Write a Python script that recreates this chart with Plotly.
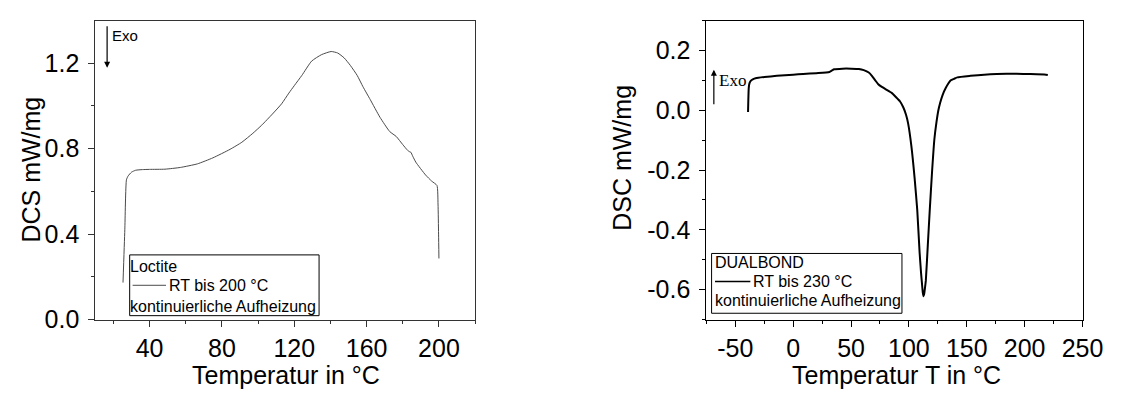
import plotly.graph_objects as go

W, H = 1123, 394

# ---------------- data ----------------
loctite_T = [25.3, 26.3, 27.2, 28.1, 30.0, 32.3, 36.0, 40.0, 48.5, 57.0, 66.5, 75.0,
             84.5, 91.0, 97.1, 102.0, 107.9, 113.0, 117.0, 120.0, 124.2, 129.6, 135.0,
             140.4, 144.0, 147.6, 151.0, 154.8, 158.0, 162.0, 167.4, 172.8, 176.4,
             180.0, 182.7, 183.7, 184.5, 185.5, 187.2, 192.6, 196.0, 198.9, 199.5,
             199.8, 200.0]
loctite_dsc = [0.173, 0.420, 0.654, 0.672, 0.690, 0.699, 0.702, 0.703, 0.704, 0.712,
               0.729, 0.757, 0.797, 0.830, 0.872, 0.910, 0.962, 1.010, 1.060, 1.095,
               1.143, 1.210, 1.240, 1.255, 1.248, 1.225, 1.190, 1.143, 1.090, 1.030,
               0.947, 0.880, 0.857, 0.819, 0.792, 0.786, 0.783, 0.765, 0.737, 0.677,
               0.648, 0.628, 0.541, 0.400, 0.286]

dualbond_T = [-39.0, -38.8, -38.4, -37.8, -36.7, -34.5, -32.5, -25.0, -14.1, 0.0, 8.6,
              20.0, 31.3, 33.5, 35.5, 42.6, 50.0, 56.8, 61.0, 65.3, 68.0, 70.9, 73.5,
              76.6, 80.0, 85.1, 88.5, 92.2, 95.1, 97.5, 99.3, 102.1, 104.9, 107.2,
              109.2, 110.5, 111.3, 112.0, 112.6, 113.2, 114.0, 114.6, 116.3, 118.0,
              120.0, 122.0, 123.8, 125.4, 127.0, 129.0, 131.9, 136.2, 139.0, 141.8,
              153.2, 165.0, 175.9, 192.9, 205.0, 218.4, 220.0]
dualbond_dsc = [-0.006, 0.030, 0.075, 0.090, 0.098, 0.104, 0.107, 0.111, 0.115, 0.119,
                0.121, 0.124, 0.128, 0.133, 0.137, 0.139, 0.139, 0.138, 0.134, 0.126,
                0.115, 0.100, 0.087, 0.078, 0.070, 0.058, 0.045, 0.030, 0.010, -0.015,
                -0.044, -0.119, -0.226, -0.334, -0.474, -0.545, -0.581, -0.610, -0.622,
                -0.614, -0.590, -0.570, -0.452, -0.334, -0.205, -0.097, -0.040, -0.001,
                0.025, 0.050, 0.075, 0.100, 0.105, 0.110, 0.115, 0.119, 0.121, 0.122,
                0.121, 0.119, 0.118]

left_xticks = [40, 80, 120, 160, 200]
left_xminor = [20, 60, 100, 140, 180, 220]
left_yticks = [0.0, 0.4, 0.8, 1.2]
left_yticklabels = ["0.0", "0.4", "0.8", "1.2"]
left_yminor = [0.2, 0.6, 1.0]

right_xticks = [-50, 0, 50, 100, 150, 200, 250]
right_xticklabels = ["-50", "0", "50", "100", "150", "200", "250"]
right_xminor = [-75, -25, 25, 75, 125, 175, 225]
right_yticks = [-0.6, -0.4, -0.2, 0.0, 0.2]
right_yticklabels = ["-0.6", "-0.4", "-0.2", "0.0", "0.2"]
right_yminor = [-0.7, -0.5, -0.3, -0.1, 0.1, 0.3]

left_name = "Loctite"
left_series = "RT bis 200 °C"
right_name = "DUALBOND"
right_series = "RT bis 230 °C"
legend_note = "kontinuierliche Aufheizung"

# ---------------- helpers ----------------
def px(x):
    return x / W

def py(y):
    return 1 - y / H

FONT = "Liberation Sans, Arial, sans-serif"
LEFT_COL = "#4a4a4a"
RIGHT_COL = "#000000"

fig = go.Figure()
fig.add_trace(go.Scatter(x=loctite_T, y=loctite_dsc, mode="lines",
                         line=dict(color=LEFT_COL, width=1, shape="spline", smoothing=0.5),
                         xaxis="x", yaxis="y", showlegend=False))
fig.add_trace(go.Scatter(x=dualbond_T, y=dualbond_dsc, mode="lines",
                         line=dict(color=RIGHT_COL, width=2, shape="spline", smoothing=0.5),
                         xaxis="x2", yaxis="y2", showlegend=False))

ydom = [py(323), py(13)]

def axis(dom, rng, tv, tt, minor, col, anchor, standoff):
    return dict(domain=dom, range=rng, tickmode="array", tickvals=tv, ticktext=tt,
                ticks="outside", ticklen=6, tickwidth=1, tickcolor=col,
                showline=True, linecolor=col, linewidth=1, mirror=True,
                showgrid=False, zeroline=False, anchor=anchor,
                ticklabelstandoff=standoff,
                tickfont=dict(family=FONT, size=25, color="#000"),
                minor=dict(tickmode="array", tickvals=minor, ticks="outside",
                           ticklen=3, tickcolor=col, tickwidth=1))

fig.update_layout(
    width=W, height=H, margin=dict(l=0, r=0, t=0, b=0),
    paper_bgcolor="white", plot_bgcolor="white",
    xaxis=axis([px(89), px(476)], [10, 220], left_xticks,
               [str(v) for v in left_xticks], left_xminor, "#333", "y", 0),
    yaxis=axis(ydom, [0, 1.4], left_yticks, left_yticklabels, left_yminor, "#333", "x", 4),
    xaxis2=axis([px(711.7), px(1095)], [-75, 250], right_xticks, right_xticklabels,
                right_xminor, "#000", "y2", 0),
    yaxis2=axis(ydom, [-0.7, 0.3], right_yticks, right_yticklabels, right_yminor,
                "#000", "x2", 4),
)

ann = []
def text(x, y, s, size, xanchor="center", angle=0, family=FONT):
    ann.append(dict(x=px(x), y=py(y), xref="paper", yref="paper", text=s,
                    showarrow=False, xanchor=xanchor, yanchor="middle",
                    textangle=angle, font=dict(family=family, size=size, color="#000")))

# axis titles
text(283, 381, "Temperatur in °C", 25)
text(23, 168, "DCS mW/mg", 25, angle=-90)
text(905, 381, "Temperatur T in °C", 25)
text(626, 155, "DSC mW/mg", 25, angle=-90)

# legend texts
text(122, 268.5, left_name, 16, xanchor="left")
text(162, 287.5, left_series, 16, xanchor="left")
text(122, 309, legend_note, 16, xanchor="left")
text(718, 264, right_name, 16, xanchor="left")
text(757, 283.5, right_series, 16, xanchor="left")
text(718, 303.5, legend_note, 16, xanchor="left")

# Exo labels
text(104, 29, "Exo", 15, xanchor="left")
text(723, 75, "Exo", 17, xanchor="left", family="Liberation Serif, Times New Roman, serif")

# Exo arrows
ann.append(dict(x=px(101), y=py(62), xref="paper", yref="paper", ax=0, ay=-43,
                text="", showarrow=True, arrowhead=2, arrowsize=1, arrowwidth=1.2,
                arrowcolor="#000"))
ann.append(dict(x=px(719.3), y=py(64), xref="paper", yref="paper", ax=0, ay=36,
                text="", showarrow=True, arrowhead=2, arrowsize=1, arrowwidth=1.2,
                arrowcolor="#000"))

fig.update_layout(annotations=ann)

shapes = [
    dict(type="rect", xref="paper", yref="paper", x0=px(124), x1=px(317),
         y0=py(319), y1=py(256), line=dict(color="#000", width=1)),
    dict(type="line", xref="paper", yref="paper", x0=px(127), x1=px(161),
         y0=py(287.5), y1=py(287.5), line=dict(color=LEFT_COL, width=1)),
    dict(type="rect", xref="paper", yref="paper", x0=px(717), x1=px(911),
         y0=py(316.5), y1=py(254.5), line=dict(color="#000", width=1)),
    dict(type="line", xref="paper", yref="paper", x0=px(720.5), x1=px(756.5),
         y0=py(283.5), y1=py(283.5), line=dict(color=RIGHT_COL, width=1.5)),
]
fig.update_layout(shapes=shapes)

fig.write_html("out.html")
